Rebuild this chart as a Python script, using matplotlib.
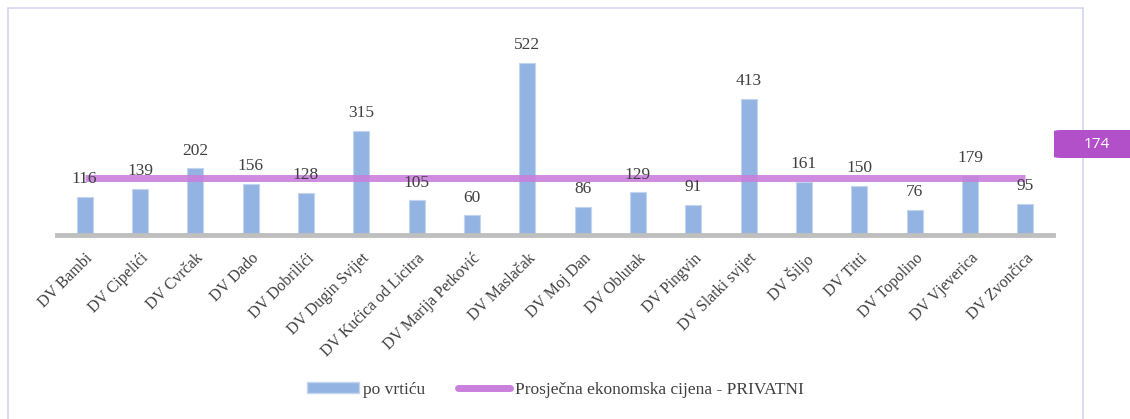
import matplotlib
matplotlib.use('Agg')
import matplotlib.pyplot as plt
from matplotlib.patches import Rectangle, FancyBboxPatch
from matplotlib.lines import Line2D

# Data
kindergartens = ['DV Bambi', 'DV Cipelići', 'DV Cvrčak', 'DV Dado', 'DV Dobrilići',
                 'DV Dugin Svijet', 'DV Kućica od Licitra', 'DV Marija Petković',
                 'DV Maslačak', 'DV Moj Dan', 'DV Oblutak', 'DV Pingvin',
                 'DV Slatki svijet', 'DV Šiljo', 'DV Titti', 'DV Topolino',
                 'DV Vjeverica', 'DV Zvončica']
per_kindergarten = [116, 139, 202, 156, 128, 315, 105, 60, 522, 86, 129, 91,
                    413, 161, 150, 76, 179, 95]
average_private = [174] * len(kindergartens)

serif = ['Liberation Serif', 'DejaVu Serif']
text_col = '#404040'
bar_col = '#93b4e2'
line_col = '#c97fdc'

W, H = 1130, 419
fig = plt.figure(figsize=(W / 100, H / 100), dpi=100)

# outer frame
fig.patches.append(Rectangle((8 / W, -0.1), (1083 - 8) / W, 1.1 - 8 / H,
                             transform=fig.transFigure, fill=False,
                             edgecolor='#d4d4f2', linewidth=1.2))

ax = fig.add_axes([57 / W, (H - 235) / H, 996 / W, 197.7 / H])
x = range(len(kindergartens))
ax.bar(x, per_kindergarten, width=0.29, color=bar_col, edgecolor='#c3d4ef',
       linewidth=0.8, zorder=2)
ax.plot(x, average_private, color=line_col, linewidth=5, alpha=0.9,
        solid_capstyle='butt', zorder=3)

for xi, v in zip(x, per_kindergarten):
    ax.annotate(str(v), (xi, v), xytext=(0, 7), textcoords='offset points',
                ha='center', va='bottom', fontsize=12.5, color=text_col,
                family=serif, zorder=4)

ax.set_xlim(-0.5, len(kindergartens) - 0.5)
ax.set_ylim(0, 600)
ax.set_yticks([])
for s in ['top', 'right', 'left']:
    ax.spines[s].set_visible(False)
ax.spines['bottom'].set_color('#bfbfbf')
ax.spines['bottom'].set_linewidth(3.5)
ax.set_xticks(list(x))
ax.set_xticklabels(kindergartens, rotation=45, ha='right', rotation_mode='anchor',
                   fontsize=11.5, color=text_col, family=serif)
ax.tick_params(axis='x', length=0, pad=11)

# average value callout
fig.patches.append(FancyBboxPatch((1054 / W, (H - 158) / H), 90 / W, 28 / H,
                                  boxstyle='round,pad=0,rounding_size=0.008',
                                  transform=fig.transFigure, facecolor='#b250c9',
                                  edgecolor='none', mutation_aspect=H / W))
fig.text(1097 / W, (H - 144.5) / H, str(average_private[0]), color='white',
         fontsize=11, ha='center', va='center',
         family=['Open Sans', 'DejaVu Sans'])

handles = [Rectangle((0, 0), 1, 1, facecolor=bar_col, edgecolor='#c3d4ef'),
           Line2D([0], [0], color=line_col, linewidth=5, solid_capstyle='round')]
fig.legend(handles, ['po vrtiću', 'Prosječna ekonomska cijena - PRIVATNI'],
           loc='center', bbox_to_anchor=(555 / W, (H - 390) / H), ncol=2,
           frameon=False, prop={'family': serif, 'size': 12.5},
           labelcolor=text_col, handlelength=3.0, handleheight=0.6,
           handletextpad=0.25, columnspacing=1.9)

fig.savefig('out.png', dpi=100)
